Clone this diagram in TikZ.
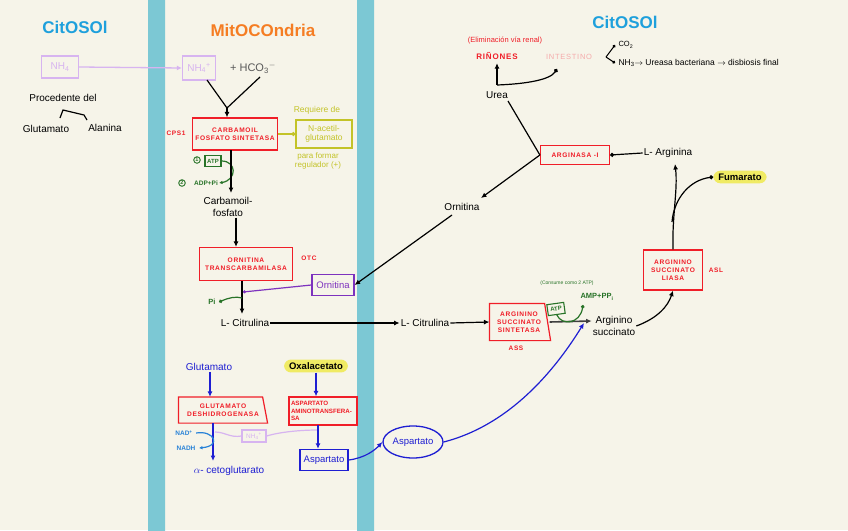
\documentclass[tikz,border=0pt]{standalone}
\usepackage{fontspec}
\setmainfont{Liberation Sans}
\newfontfamily\spacedf[LetterSpace=10]{Liberation Sans}
\usetikzlibrary{arrows.meta,shapes.geometric,calc}
\definecolor{bg}{RGB}{246,244,233}
\definecolor{memb}{RGB}{124,200,212}
\definecolor{cyto}{RGB}{30,160,220}
\definecolor{mito}{RGB}{245,125,35}
\definecolor{rd}{RGB}{240,30,40}
\definecolor{gr}{RGB}{40,115,40}
\definecolor{bl}{RGB}{30,30,210}
\definecolor{lbl}{RGB}{40,130,215}
\definecolor{yl}{RGB}{240,235,100}
\definecolor{ylg}{RGB}{195,195,40}
\definecolor{pur}{RGB}{125,50,190}
\definecolor{lav}{RGB}{215,180,240}
\definecolor{pinkl}{RGB}{245,170,170}
\begin{document}
\begin{tikzpicture}[x=1pt,y=-1pt,
  enz/.style={draw=rd, line width=1.2pt, text=rd, font=\spacedf\fontsize{6.6}{8}\selectfont\bfseries, align=center, inner sep=1pt},
  enzlbl/.style={text=rd, font=\spacedf\fontsize{6.5}{7}\selectfont\bfseries},
  hand/.style={font=\fontsize{10}{11.5}\selectfont, align=center, inner sep=1pt},
  title/.style={font=\fontsize{17}{18}\selectfont\bfseries},
  arr/.style={-{Latex[length=5.5pt,width=5pt]}, line width=1.2pt},
  darr/.style={-{Circle[length=4pt]}, line width=1.2pt},
  ln/.style={line width=1.2pt},
  pill/.style={fill=yl, rounded corners=7pt, inner xsep=5pt, inner ysep=3pt, font=\fontsize{9.5}{10}\selectfont\bfseries}
]
\useasboundingbox (0,0) rectangle (848,530);
\fill[bg] (0,0) rectangle (848,530);
\fill[memb, rounded corners=4pt] (148,-6) rectangle (165,536);
\fill[memb, rounded corners=4pt] (357,-6) rectangle (374,536);

% titles
\node[title, text=cyto] (tcl) at (75,27) {CitOSOl};
\node[title, text=cyto] (tcr) at (625,22) {CitOSOl};
\node[title, text=mito] (tmi) at (263,30) {MitOCOndria};

% left cytosol
\node[draw=lav, line width=1.3pt, text=lav, minimum width=37pt, minimum height=22pt, font=\fontsize{10}{11}\selectfont] (nh4L) at (60,67) {NH\textsubscript{4}};
\node[hand] (proc) at (63,98) {Procedente del};
\node[hand] (glutL) at (46,129) {Glutamato};
\node[hand] (alaL) at (105,128) {Alanina};
\draw[ln] (60,118) -- (63,110) -- (84,115) -- (87,120);

% mitochondria top
\node[draw=lav, line width=1.3pt, text=lav, minimum width=33pt, minimum height=24pt, font=\fontsize{10}{11}\selectfont] (nh4M) at (199,68) {NH\textsubscript{4}\textsuperscript{+}};
\node[hand, text=black!65, font=\fontsize{11}{12}\selectfont] (hco3) at (253,68) {+ HCO\textsubscript{3}\textsuperscript{$-$}};
\draw[lav, line width=1.3pt, -{Latex[length=5pt,width=5pt]}] (nh4L.east) -- (nh4M.west);
\coordinate (j1) at (227,108);
\draw[ln] (207,80) -- (j1);
\draw[ln] (260,77) -- (j1);

\node[enz, minimum width=85pt, minimum height=32pt] (cps) at (235,134) {CARBAMOIL\\FOSFATO SINTETASA};
\draw[arr] (j1) -- (cps.north -| j1);
\node[enzlbl] (cps1) at (176,133) {CPS1};
\node[draw=ylg, line width=1.1pt, text=ylg, minimum width=56pt, minimum height=28pt, align=center, font=\fontsize{8.5}{9.5}\selectfont, inner sep=1pt] (nac) at (324,134) {N-acetil-\\glutamato};
\node[text=ylg, font=\fontsize{8.5}{10}\selectfont] (req) at (317,110) {Requiere de};
\node[text=ylg, font=\fontsize{8}{9}\selectfont, align=center] (para) at (318,161) {para formar\\regulador (+)};
\draw[ylg, darr] (cps.east) -- (nac.west);

\node[draw=gr, line width=1.1pt, text=gr, font=\fontsize{6}{6}\selectfont\bfseries, minimum width=16pt, minimum height=11pt, inner sep=1pt] (atp1) at (213,161) {ATP};
\node[draw=gr, circle, line width=0.9pt, text=gr, font=\fontsize{5.5}{6}\selectfont\bfseries, inner sep=0.6pt] (c1) at (197,160) {1};
\node[text=gr, font=\fontsize{6.5}{7}\selectfont\bfseries, inner sep=1pt] (adp) at (206,183) {ADP+Pi};
\node[draw=gr, circle, line width=0.9pt, text=gr, font=\fontsize{5.5}{6}\selectfont\bfseries, inner sep=0.6pt] (c2) at (182,183) {2};
\draw[gr, line width=1.2pt, -{Latex[length=3.5pt,width=3.5pt]}] (atp1.east) .. controls (237,161) and (237,180) .. (adp.east);

\node[hand] (carb) at (228,207) {Carbamoil-\\fosfato};
\draw[arr] (231,150) -- (231,193);

\node[enz, minimum width=93pt, minimum height=33pt] (otc) at (246,264) {ORNITINA\\TRANSCARBAMILASA};
\draw[arr] (carb.south -| 236,0) -- (otc.north -| 236,0);
\node[enzlbl] (otcl) at (309,258) {OTC};
\node[draw=pur, line width=1.2pt, text=pur, minimum width=42pt, minimum height=21pt, font=\fontsize{9.5}{10}\selectfont, inner sep=1pt] (ornM) at (333,285) {Ornitina};

\node[hand] (citM) at (245,323) {L- Citrulina};
\draw[arr] (242,281) -- (242,314);
\coordinate (jp) at (243,292);
\draw[pur, line width=1.2pt, -{Circle[length=3pt]}] (ornM.west) -- (jp);
\node[text=gr, font=\fontsize{7.5}{8}\selectfont\bfseries] (pi) at (212,302) {Pi};
\draw[gr, line width=1.2pt, -{Circle[length=3.5pt]}] (242,298) .. controls (236,296) and (228,298) .. (pi.east);

% cytosol middle
\node[hand] (citC) at (425,323) {L- Citrulina};
\draw[arr] (citM.east) -- (citC.west);
\node[enz, draw=none, minimum width=58pt, minimum height=36pt] (ass) at (519,322) {ARGININO\\SUCCINATO\\SINTETASA};
\draw[rd, line width=1.2pt] (ass.north west) -- ($(ass.north east)+(-4,0)$) -- ($(ass.south east)+(2,0)$) -- (ass.south west) -- cycle;
\node[enzlbl] (assl) at (516,348) {ASS};
\draw[arr] (citC.east) -- (ass.west);
\node[hand] (argsuc) at (614,326) {Arginino\\succinato};
\draw[arr, black!75, line width=1.6pt] ($(ass.east)+(1,0)$) -- (argsuc.west |- 0,321);
\node[draw=gr, line width=1.1pt, text=gr, font=\fontsize{6}{6}\selectfont\bfseries, minimum width=17pt, minimum height=11pt, inner sep=1pt, rotate=8] (atp2) at (556,309) {ATP};
\node[text=gr, font=\fontsize{7.5}{8}\selectfont\bfseries] (amp) at (597,297) {AMP+PP\textsubscript{i}};
\node[text=gr, font=\fontsize{5}{5}\selectfont] (cons) at (567,283) {(Consume como 2 ATP)};
\draw[gr, line width=1.2pt, -{Circle[length=3.5pt]}] (atp2.south) .. controls (562,326) and (580,324) .. (583,305);

\node[enz, minimum width=59pt, minimum height=40pt] (asl) at (673,270) {ARGININO\\SUCCINATO\\LIASA};
\node[enzlbl] (asll) at (716,270) {ASL};
\draw[arr] (argsuc.east) .. controls (658,318) and (668,306) .. (asl.south);
\node[hand] (larg) at (668,153) {L- Arginina};
\node[pill] (fum) at (740,177) {Fumarato};
\draw[arr] (asl.north) .. controls (672,215) and (678,190) .. (675,164);
\draw[darr] (672,222) .. controls (674,198) and (690,180) .. (fum.west);

\node[enz, minimum width=69pt, minimum height=19pt] (arg) at (575,155) {ARGINASA -I};
\draw[darr] (larg.west) -- (arg.east);
\node[hand] (urea) at (497,95) {Urea};
\node[hand] (ornC) at (462,207) {Ornitina};
\draw[ln] (arg.west) -- (508,101);
\draw[arr] (arg.west) -- (481,198);
\draw[arr] (452,215) -- (ornM.east);

\node[text=rd, font=\spacedf\fontsize{8}{9}\selectfont\bfseries] (rin) at (497,56) {RIÑONES};
\node[text=rd, font=\fontsize{7.5}{8}\selectfont] (elim) at (505,41) {(Eliminación vía renal)};
\node[text=pinkl, font=\spacedf\fontsize{7.5}{8}\selectfont] (intest) at (569,57) {INTESTINO};
\coordinate (ju) at (497,85);
\draw[arr] (ju) -- (rin.south);
\draw[darr] (ju) .. controls (525,84) and (550,80) .. (557,69);
\node[font=\fontsize{7.5}{8}\selectfont, anchor=west] (co2) at (615,45) {CO\textsubscript{2}};
\node[font=\fontsize{8.5}{9}\selectfont, anchor=west] (nh3) at (615,63) {NH\textsubscript{3}$\rightarrow$ Ureasa bacteriana $\rightarrow$ disbiosis final};
\draw[line width=1pt, -{Circle[length=3pt]}] (606,57) -- (co2.west);
\draw[line width=1pt, -{Circle[length=3pt]}] (606,57) -- (nh3.west);

% bottom mitochondria
\node[hand, text=bl] (glutB) at (209,367) {Glutamato};
\node[pill] (oxa) at (316,366) {Oxalacetato};
\node[enz, draw=none, minimum width=88pt, minimum height=25pt] (gdh) at (223,410) {GLUTAMATO\\DESHIDROGENASA};
\draw[rd, line width=1.2pt] (gdh.north west) -- ($(gdh.north east)+(-5,0)$) -- (gdh.south east) -- (gdh.south west) -- cycle;
\node[enz, font=\fontsize{6.2}{7.5}\selectfont\bfseries, text width=64pt, minimum height=28pt, align=left, inner sep=2pt] (ast) at (323,411) {ASPARTATO\\AMINOTRANSFERA-\\SA};
\draw[arr, bl] (glutB.south -| 210,0) -- (gdh.north -| 210,0);
\draw[arr, bl] (oxa.south) -- (ast.north -| oxa.south);
\node[hand, text=bl] (akg) at (229,471) {$\alpha$- cetoglutarato};
\draw[arr, bl] (gdh.south -| 213,0) -- (213,461);
\node[text=lbl, font=\fontsize{6.5}{7}\selectfont\bfseries] (nad) at (184,433) {NAD\textsuperscript{+}};
\node[text=lbl, font=\fontsize{6.5}{7}\selectfont\bfseries] (nadh) at (186,448) {NADH};
\draw[lbl, line width=1.2pt, -{Latex[length=3.5pt,width=3.5pt]}] (nad.east) .. controls (214,430) and (222,446) .. (nadh.east);
\node[draw=lav, line width=1.1pt, text=lav, minimum width=24pt, minimum height=12pt, font=\fontsize{6.5}{7}\selectfont, inner sep=0.5pt] (nh4B) at (254,436) {NH\textsubscript{4}\textsuperscript{+}};
\draw[lav, line width=1.2pt] (215,432) .. controls (225,432) and (230,438) .. (nh4B.west);
\draw[lav, line width=1.2pt] (nh4B.east) .. controls (280,432) and (300,430) .. (318,430);
\node[draw=bl, line width=1.3pt, text=bl, minimum width=48pt, minimum height=21pt, font=\fontsize{9.5}{10}\selectfont, inner sep=1pt] (aspM) at (324,460) {Aspartato};
\draw[arr, bl] (318,425) -- (aspM.north -| 318,0);
\node[ellipse, draw=bl, line width=1.3pt, text=bl, minimum width=60pt, minimum height=32pt, font=\fontsize{9.5}{10}\selectfont, inner sep=0pt] (aspC) at (413,442) {Aspartato};
\draw[arr, bl] (aspM.east) .. controls (365,458) and (375,450) .. (aspC.west);
\draw[arr, bl] (aspC.east) .. controls (510,425) and (555,370) .. (584,323);
\end{tikzpicture}
\end{document}
